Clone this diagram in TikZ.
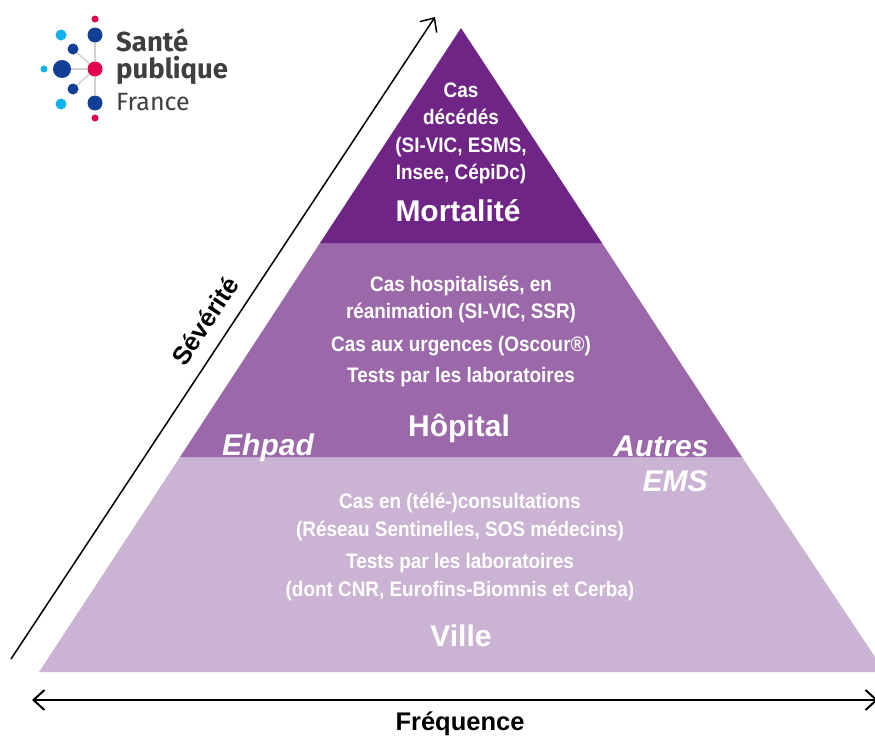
\documentclass[tikz,border=0pt]{standalone}
\usepackage{fontspec}
\setmainfont{Liberation Sans}
\newfontfamily\narrowfont[FakeStretch=0.9]{Liberation Sans}
\newfontfamily\logofont{Fira Sans}
\usetikzlibrary{arrows.meta}
\definecolor{mortcol}{HTML}{6F2585}
\definecolor{hopcol}{HTML}{9B69AA}
\definecolor{villecol}{HTML}{CBB3D4}
\definecolor{logonavy}{HTML}{123F96}
\definecolor{logocyan}{HTML}{0FB2EA}
\definecolor{logopink}{HTML}{E5004F}
\definecolor{logogrey}{HTML}{3F3F3F}
\tikzset{
    small/.style = {text = white, font = \narrowfont\bfseries\fontsize{21}{27.5}\selectfont, align = center, inner sep = 0pt},
    level/.style = {text = white, font = \bfseries\fontsize{30}{34}\selectfont, inner sep = 0pt},
    side/.style = {text = white, font = \bfseries\itshape\fontsize{30}{34}\selectfont, inner sep = 0pt},
    axislabel/.style = {font = \bfseries\fontsize{25.5}{30}\selectfont, inner sep = 0pt},
    dot/.style = {circle, fill = #1, inner sep = 0pt},
    link/.style = {draw = black!18, line width = 1.5pt}
}

\begin{document}
\begin{tikzpicture}[x = 1pt, y = -1pt]
    \useasboundingbox (0,0) rectangle (875,736);

    % pyramid
    \fill[villecol] (180,457) -- (742,457) -- (885,672) -- (39,672) -- cycle;
    \fill[hopcol] (320,243) -- (602,243) -- (742,457) -- (180,457) -- cycle;
    \fill[mortcol] (461,28) -- (602,243) -- (320,243) -- cycle;

    % top
    \node[small] (deces) at (461,133.5) {Cas\\décédés\\(SI-VIC,  ESMS,\\Insee, CépiDc)};
    \node[level] (mortalite) at (458,211) {Mortalité};

    % middle
    \node[small] (hospit) at (461,299.5) {Cas hospitalisés, en\\réanimation (SI-VIC, SSR)};
    \node[small] (urgences) at (461,346) {Cas aux urgences (Oscour®)};
    \node[small] (testshop) at (461,377) {Tests par les laboratoires};
    \node[level] (hopital) at (459,428) {Hôpital};
    \node[side] (ehpad) at (268,447.5) {Ehpad};
    \node[side] (autres) at (661,446) {Autres};
    \node[side] (ems) at (675,481) {EMS};

    % bottom
    \node[small] (consult) at (460,517) {Cas en (télé-)consultations\\(Réseau Sentinelles, SOS médecins)};
    \node[small] (testville) at (460,577) {Tests par les laboratoires\\(dont CNR, Eurofins-Biomnis et Cerba)};
    \node[level] (ville) at (461,636) {Ville};

    % axes
    \coordinate (sevbas) at (11,659);
    \coordinate (sevhaut) at (435,17);
    \coordinate (freqg) at (32,700);
    \coordinate (freqd) at (878,700);
    \draw[line width = 1.5pt, -{Straight Barb[length = 11pt, width = 20pt]}] (sevbas) -- (sevhaut);
    \draw[line width = 2pt, {Straight Barb[length = 11pt, width = 20pt]}-{Straight Barb[length = 11pt, width = 20pt]}] (freqg) -- (freqd);
    \node[axislabel, rotate = 56.5] (severite) at (205,321) {Sévérité};
    \node[axislabel, anchor = base] (frequence) at (460,730.5) {Fréquence};

    % logo
    \node[dot = logopink, minimum size = 15pt] (centre) at (95,69) {};
    \node[dot = logonavy, minimum size = 15pt] (haut) at (95,35) {};
    \node[dot = logonavy, minimum size = 15pt] (bas) at (95,103) {};
    \node[dot = logonavy, minimum size = 18pt] (gros) at (62,69) {};
    \node[dot = logonavy, minimum size = 11pt] (hautg) at (73,49) {};
    \node[dot = logonavy, minimum size = 11pt] (basg) at (73,89) {};
    \node[dot = logopink, minimum size = 7pt] (pinkh) at (95,19) {};
    \node[dot = logopink, minimum size = 7pt] (pinkb) at (95,118) {};
    \node[dot = logocyan, minimum size = 7pt] (cyang) at (44,69) {};
    \node[dot = logocyan, minimum size = 11pt] (cyanh) at (61,35) {};
    \node[dot = logocyan, minimum size = 11pt] (cyanb) at (61,104) {};
    \draw[link] (centre) -- (haut);
    \draw[link] (centre) -- (bas);
    \draw[link] (centre) -- (gros);
    \draw[link] (centre) -- (hautg);
    \draw[link] (centre) -- (basg);
    \node[anchor = base west, inner sep = 0pt, text = logogrey, font = \logofont\bfseries\fontsize{27.5}{30}\selectfont] (sante) at (116,51) {Santé};
    \node[anchor = base west, inner sep = 0pt, text = logogrey, font = \logofont\bfseries\fontsize{27.5}{30}\selectfont] (publique) at (116,78) {publique};
    \node[anchor = base west, inner sep = 0pt, text = logogrey, font = \logofont\fontsize{25}{30}\selectfont] (france) at (116,110) {France};
\end{tikzpicture}
\end{document}
